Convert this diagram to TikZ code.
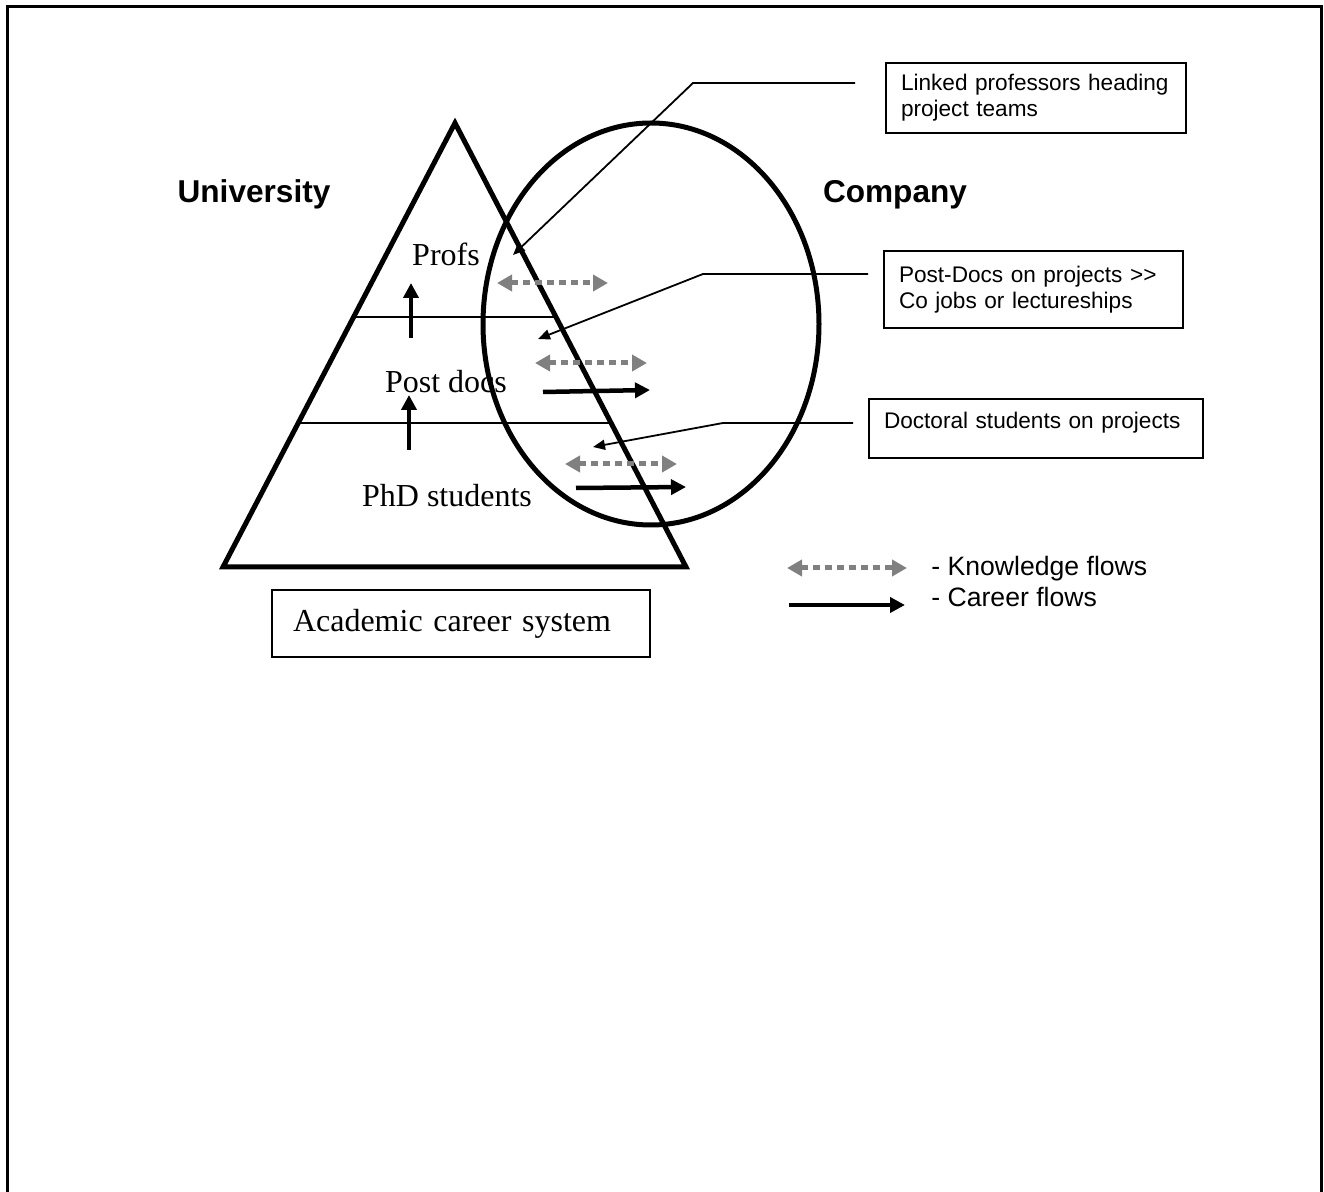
\documentclass[tikz,border=0pt]{standalone}
\usepackage{fontspec}
\setmainfont{Liberation Serif}
\setsansfont{Liberation Sans}
\usetikzlibrary{arrows.meta}
\definecolor{flowgrey}{RGB}{128,128,128}

\begin{document}
\begin{tikzpicture}[x=0.5pt, y=-0.5pt,
    levelname/.style={font=\fontsize{16}{19}\selectfont, inner sep=0pt, anchor=base},
    sidename/.style={font=\sffamily\bfseries\fontsize{15.8}{19}\selectfont, inner sep=0pt, anchor=base},
    notebox/.style={draw, line width=1pt, font=\sffamily\fontsize{11.3}{13}\selectfont,
        align=left, anchor=north west, inner xsep=7.5pt, inner ysep=4pt},
    pointer/.style={line width=0.9pt, -{Triangle[length=6pt, width=5pt]}},
    career/.style={line width=2.25pt, -{Triangle[length=7.5pt, width=7.5pt]}},
    knowledge/.style={flowgrey, line width=2.5pt, dash pattern=on 3.5pt off 2.5pt,
        {Triangle[length=7.5pt, width=8pt]}-{Triangle[length=7.5pt, width=8pt]}},
    legendtext/.style={font=\sffamily\fontsize{13.3}{16}\selectfont, inner sep=0pt, anchor=base west}]
\useasboundingbox (0,0) rectangle (1324,1192);

\draw [line width=1.5pt] (7,1200) -- (7,7) -- (1321,7) -- (1321,1200);

\draw [line width=2.5pt, line join=miter]
    (455,123) coordinate (apex) --
    (686,567) coordinate (baseR) --
    (223,567) coordinate (baseL) -- cycle;
\draw [line width=0.8pt] (353,317) coordinate (upL) -- (556,317) coordinate (upR);
\draw [line width=0.8pt] (297,423) coordinate (lowL) -- (611,423) coordinate (lowR);
\draw [line width=2.5pt] (651,324) coordinate (firm) ellipse [x radius=84pt, y radius=100.5pt];

\node [sidename] (uni) at (254,203) {University};
\node [sidename] (comp) at (895,203) {Company};
\node [levelname] (profs) at (446,266) {Profs};
\node [levelname] (pdocs) at (446,393) {Post docs};
\node [levelname] (phds) at (447,507) {PhD students};

\node [draw, line width=1pt, font=\fontsize{16}{19}\selectfont, align=left,
    text width=168pt, inner xsep=10.5pt, minimum height=33.5pt] (acs) at (461,623.5)
    {Academic career system};

\node [notebox, text width=135pt, minimum height=35pt] (profnote) at (885,62)
    {Linked professors heading\\project teams};
\node [notebox, text width=134.5pt, minimum height=38.5pt] (pdocnote) at (883,250)
    {Post-Docs on projects >{}>\\Co jobs or lectureships};
\node [notebox, text width=152pt, text height=10.5pt, text depth=10pt, inner ysep=4.5pt] (phdnote) at (868,398)
    {Doctoral students on projects};

\coordinate (p1) at (855,83);
\coordinate (p1b) at (693,83);
\coordinate (p1t) at (513,255);
\draw [pointer] (p1) -- (p1b) -- (p1t);
\coordinate (p2) at (868,274);
\coordinate (p2b) at (703,274);
\coordinate (p2t) at (538,339);
\draw [pointer] (p2) -- (p2b) -- (p2t);
\coordinate (p3) at (853,423);
\coordinate (p3b) at (723,423);
\coordinate (p3t) at (593,447);
\draw [pointer] (p3) -- (p3b) -- (p3t);

\draw [career] (411,338) coordinate (up1s) -- (411,283) coordinate (up1e);
\draw [career] (409,450) coordinate (up2s) -- (409,395) coordinate (up2e);

\draw [knowledge] (497,283) coordinate (k1a) -- (608,283) coordinate (k1b);
\draw [knowledge] (535,363) coordinate (k2a) -- (647,363) coordinate (k2b);
\draw [knowledge] (565,464) coordinate (k3a) -- (677,464) coordinate (k3b);
\draw [career] (543,392) coordinate (c1a) -- (650,390) coordinate (c1b);
\draw [career] (576,488) coordinate (c2a) -- (686,487) coordinate (c2b);

\draw [knowledge] (787,568) coordinate (lk1) -- (907,568) coordinate (lk2);
\draw [career] (789,605) coordinate (lc1) -- (905,605) coordinate (lc2);
\node [legendtext] (kflow) at (931,576) {- Knowledge flows};
\node [legendtext] (cflow) at (931,607) {- Career flows};
\end{tikzpicture}
\end{document}
